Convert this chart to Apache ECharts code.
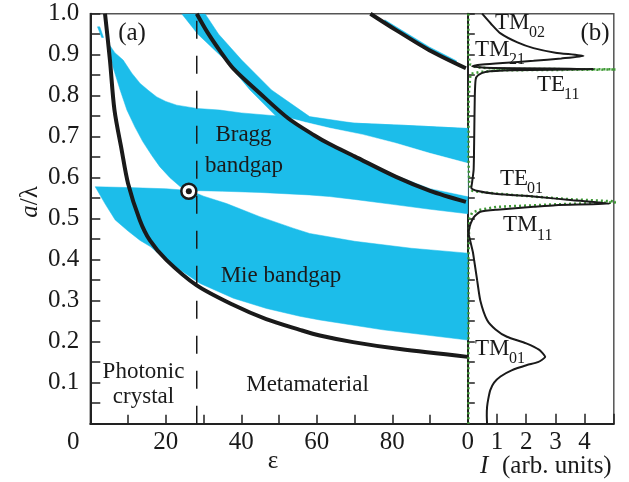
<!DOCTYPE html>
<html><head><meta charset="utf-8">
<script src="https://cdn.jsdelivr.net/npm/echarts@6/dist/echarts.min.js"></script>
<style>html,body{margin:0;padding:0;background:#fff}#c{width:629px;height:482px}</style>
</head><body><div id="c"></div>
<script>
// ---------- data ----------
// panel (a): permittivity eps vs a/lambda
const curveA = [[3.9,1.0],[5.2,0.887],[6.4,0.765],[8.3,0.668],[10.0,0.586],[13.1,0.497],[15.8,0.447],[20.2,0.399],[28.1,0.338],[37.8,0.290],[46.6,0.255],[55.5,0.229],[60.8,0.215],[69.6,0.199],[82,0.182],[100,0.163]];
const curveB = [[28.2,1.0],[31,0.955],[34.3,0.91],[37.9,0.866],[44.9,0.806],[52.4,0.745],[59.4,0.703],[63.4,0.682],[70,0.652],[81,0.602],[90,0.568],[99.5,0.541]];
const curveC = [[74.2,1.0],[81,0.960],[89.8,0.911],[99.5,0.867]];
const braggUpperEdge = [[4.7,0.929],[6.5,0.905],[8.7,0.887],[11,0.855],[13.2,0.83],[15.5,0.812],[17.6,0.797],[20,0.786],[22.9,0.777],[28.2,0.769],[34.3,0.765],[40,0.758],[52.8,0.748],[63.4,0.737],[70,0.733],[85,0.727],[100,0.72]];
const braggLowerEdge = [[100,0.512],[90,0.523],[80,0.535],[70,0.547],[63.4,0.554],[58,0.558],[45,0.564],[35,0.567],[26.1,0.569],[23.7,0.579],[21.1,0.600],[18.4,0.627],[16.3,0.654],[13.9,0.688],[11.8,0.724],[9.7,0.765],[7.9,0.814],[6.0,0.870],[4.7,0.929]];
const dipoleBandLower = [[49.3,0.749],[42.3,0.814],[35.7,0.887],[28.5,0.95],[24.2,1.0]];
const dipoleBandUpper = [[30.4,1.0],[34,0.95],[40.1,0.887],[48,0.814],[58.1,0.749],[70,0.733],[85,0.727],[100,0.72]];
const upperStripLower = [[100,0.635],[89.8,0.66],[81,0.684],[72.2,0.705],[63.4,0.721],[57,0.735],[52.9,0.745]];
const whiteGapLower = [[100,0.555],[90,0.574],[81,0.606],[75,0.632],[70,0.654],[63.4,0.684],[59.4,0.705],[55,0.73],[52.6,0.745]];
const mieUpperEdge = [[1.3,0.578],[10,0.576],[20,0.573],[26.1,0.569],[28.1,0.562],[30,0.555],[36.1,0.537],[44.9,0.505],[53.7,0.477],[58.1,0.464],[70,0.445],[85,0.428],[100,0.416]];
const mieLowerEdge = [[100,0.204],[77.5,0.229],[60.8,0.253],[55.5,0.262],[46.7,0.281],[37.9,0.306],[29.1,0.342],[23.8,0.375],[20,0.40],[15.9,0.432],[13.2,0.447],[10,0.47],[6.6,0.497],[4,0.535],[1.3,0.578]];
const sliverC = [[78,0.985],[81,0.968],[89.8,0.919],[97,0.885],[97,0.877],[89.8,0.911],[81,0.960],[78,0.978]];
const sliverTopLeft = [[1.9,0.968],[2.5,0.968],[3.5,0.942],[3.0,0.942]];
const dividerEps = 28.2;
const markedPoint = [26.1,0.567];
// panel (b): intensity I vs a/lambda
const spectrumTM = [[0.49,1.0],[0.8,0.975],[1.12,0.952],[1.7,0.93],[2.25,0.916],[3.0,0.905],[3.96,0.897],[3.2,0.891],[2.25,0.885],[1.2,0.88],[0.5,0.876],[0.15,0.872],[0.6,0.868],[4.3,0.865],[1.5,0.862],[0.6,0.858],[0.35,0.85],[0.27,0.84],[0.24,0.8],[0.22,0.7],[0.2,0.62],[0.15,0.59],[0.12,0.575],[0.3,0.568],[1.0,0.56],[2.25,0.554],[3.6,0.545],[4.87,0.537],[3.0,0.533],[2.25,0.529],[1.0,0.522],[0.43,0.517],[0.25,0.507],[0.15,0.497],[0.06,0.48],[0.03,0.464],[0.08,0.447],[0.17,0.42],[0.2,0.407],[0.32,0.35],[0.43,0.30],[0.66,0.253],[0.95,0.23],[1.34,0.212],[2.0,0.196],[2.45,0.18],[2.65,0.163],[2.4,0.15],[2.03,0.143],[1.5,0.13],[1.12,0.115],[0.9,0.1],[0.77,0.082],[0.7,0.06],[0.66,0.041],[0.65,0.02],[0.66,0.0]];
const spectrumTE = [[0.02,1.0],[0.02,0.9],[0.08,0.876],[0.3,0.869],[1.12,0.8655],[5.5,0.864],[1.12,0.862],[0.43,0.858],[0.09,0.853],[0.03,0.8],[0.02,0.65],[0.05,0.58],[0.15,0.568],[0.43,0.565],[1.2,0.56],[2.25,0.554],[3.6,0.547],[5.5,0.541],[3.0,0.535],[1.0,0.529],[0.43,0.522],[0.15,0.515],[0.05,0.5],[0.02,0.4],[0.02,0.0]];

// ---------- styles ----------
const BLUE = '#1cbdea';
const FONT = "'Liberation Serif','DejaVu Serif',serif";
const TXT = '#1a1a1a';

function polySeries(points, fill, z){
  return {type:'custom', xAxisIndex:0, yAxisIndex:0, data: points, silent:true, clip:true, z:z,
    renderItem: function(params, api){
      if (params.dataIndex !== 0) return null;
      return {type:'polygon', shape:{points: points.map(p => api.coord(p))}, style:{fill: fill, stroke: fill, lineWidth: 0.5}};
    }};
}
function curve(data, w){
  return {type:'line', xAxisIndex:0, yAxisIndex:0, data:data, smooth:0.3, symbol:'none', silent:true, z:5,
    lineStyle:{color:'#1a1a1a', width:w}};
}
function label(x, y, text, size, extra){
  return Object.assign({type:'text', x:x, y:y, z:10,
    style:{text:text, font:`${size}px ${FONT}`, fill:TXT, align:'center', verticalAlign:'middle'}}, extra || {});
}
function modeLabel(x, y, main, sub){
  return [
    {type:'text', x:x, y:y, z:10, style:{text:main, font:`23px ${FONT}`, fill:TXT, align:'left', verticalAlign:'middle'}},
    {type:'text', x:x + (main==='TM' ? 34 : 27), y:y + 10.5, z:10, style:{text:sub, font:`16px ${FONT}`, fill:TXT, align:'left', verticalAlign:'middle'}}
  ];
}

const chart = echarts.init(document.getElementById('c'), null, {renderer:'canvas'});
const tickLabel = {fontSize:25, fontFamily:FONT, color:TXT};
const option = {
  animation:false,
  backgroundColor:'#fff',
  grid:[
    {left:90.3, top:13.7, width:377.5, height:410, show:true, borderColor:'#555', borderWidth:1.5},
    {left:467.8, top:13.7, width:146, height:410, show:true, borderColor:'#555', borderWidth:1.5}
  ],
  xAxis:[
    {gridIndex:0, type:'value', min:0, max:100, interval:10,
      axisLine:{show:true, onZero:false, lineStyle:{color:'#222', width:2}},
      axisTick:{show:true, inside:true, length:9, lineStyle:{color:'#222', width:1.5}},
      splitLine:{show:false},
      axisLabel:Object.assign({margin:6, formatter: v => v===0 ? '{z|0}' : ((v%20===0 && v<100) ? String(v) : ''),
        rich:{z:{fontSize:25, fontFamily:FONT, color:TXT, padding:[0,34,0,0]}}}, tickLabel)},
    {gridIndex:1, type:'value', min:0, max:5, interval:1,
      axisLine:{show:true, onZero:false, lineStyle:{color:'#222', width:2}},
      axisTick:{show:true, inside:true, length:10, lineStyle:{color:'#222', width:1.5}},
      splitLine:{show:false},
      axisLabel:Object.assign({margin:6, formatter: v => v<5 ? String(v) : ''}, tickLabel)}
  ],
  yAxis:[
    {gridIndex:0, type:'value', min:0, max:1, interval:0.05,
      axisLine:{show:true, onZero:false, lineStyle:{color:'#222', width:2}},
      axisTick:{show:true, inside:true, length:10, lineStyle:{color:'#222', width:1.5}},
      splitLine:{show:false},
      axisLabel:Object.assign({margin:11, formatter: v => { const k = Math.round(v*100); return (k%10===0 && k>0) ? (k/100).toFixed(1) : ''; }}, tickLabel)},
    {gridIndex:1, type:'value', min:0, max:1, interval:0.05,
      axisLine:{show:true, onZero:false, lineStyle:{color:'#222', width:2}},
      axisTick:{show:true, inside:true, length:7, lineStyle:{color:'#222', width:1.5}},
      splitLine:{show:false}, axisLabel:{show:false}}
  ],
  series:[
    polySeries(braggUpperEdge.concat(braggLowerEdge), BLUE, 1),
    polySeries(dipoleBandLower.concat(dipoleBandUpper, upperStripLower), BLUE, 1),
    polySeries(mieUpperEdge.concat(mieLowerEdge), BLUE, 1),
    polySeries(sliverC, BLUE, 1),
    polySeries(sliverTopLeft, BLUE, 1),
    polySeries(upperStripLower.slice().reverse().concat(whiteGapLower), '#ffffff', 2),
    {type:'line', xAxisIndex:0, yAxisIndex:0, data:[[dividerEps,0],[dividerEps,1]], symbol:'none', silent:true, z:4,
      lineStyle:{color:'#1a1a1a', width:1.5, type:[18,17]}},
    curve(curveA, 4), curve(curveB, 4), curve(curveC, 4),
    {type:'scatter', xAxisIndex:0, yAxisIndex:0, data:[markedPoint], symbol:'circle', symbolSize:15, silent:true, z:6,
      itemStyle:{color:'#fff', borderColor:'#1a1a1a', borderWidth:2.5, opacity:1}},
    {type:'scatter', xAxisIndex:0, yAxisIndex:0, data:[markedPoint], symbol:'circle', symbolSize:6, silent:true, z:7,
      itemStyle:{color:'#1a1a1a', opacity:1}},
    {type:'line', xAxisIndex:1, yAxisIndex:1, data:spectrumTE, symbol:'none', silent:true, z:5, clip:true,
      lineStyle:{color:'#3f9a36', width:2.5, type:[2,3]}},
    {type:'line', xAxisIndex:1, yAxisIndex:1, data:spectrumTM, smooth:0.2, symbol:'none', silent:true, z:6, clip:true,
      lineStyle:{color:'#1a1a1a', width:2}}
  ],
  graphic:[
    label(132, 33, '(a)', 25),
    label(595, 33, '(b)', 25),
    label(243.5, 135, 'Bragg', 23),
    label(244, 166, 'bandgap', 23),
    label(281, 276, 'Mie bandgap', 23),
    label(143.5, 372, 'Photonic', 23),
    label(143.5, 397, 'crystal', 23),
    label(307.5, 385, 'Metamaterial', 23),
    label(273, 461, 'ε', 25),
    {type:'text', x:480, y:466, z:10, style:{text:'I', font:`italic 25px ${FONT}`, fill:TXT, align:'left', verticalAlign:'middle'}},
    {type:'text', x:502, y:466, z:10, style:{text:'(arb. units)', font:`25px ${FONT}`, fill:TXT, align:'left', verticalAlign:'middle'}},
    {type:'text', x:30, y:202, rotation:Math.PI/2, z:10, style:{text:'{i|a}/λ', align:'center', verticalAlign:'middle', fill:TXT,
      font:`25px ${FONT}`, rich:{i:{font:`italic 25px ${FONT}`, fill:TXT}}}}
  ].concat(
    modeLabel(495, 22.5, 'TM', '02'),
    modeLabel(475, 49.5, 'TM', '21'),
    modeLabel(537, 84.5, 'TE', '11'),
    modeLabel(500, 178.5, 'TE', '01'),
    modeLabel(503, 225, 'TM', '11'),
    modeLabel(475, 348.5, 'TM', '01')
  )
};
chart.setOption(option);
</script></body></html>
